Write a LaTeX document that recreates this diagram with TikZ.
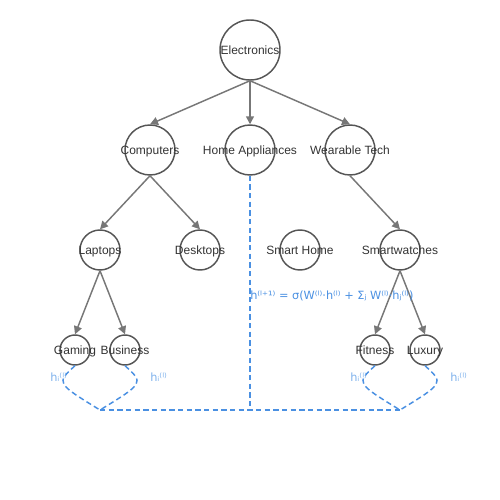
\documentclass[tikz,border=0pt]{standalone}
\usepackage{fontspec}
\setmainfont{Liberation Sans}
\newfontfamily\symfont{DejaVu Sans}
\usetikzlibrary{arrows.meta}
\definecolor{ringgray}{HTML}{555555}
\definecolor{edgegray}{HTML}{777777}
\definecolor{textgray}{HTML}{333333}
\definecolor{msgblue}{HTML}{4A90E2}
\definecolor{hblue}{HTML}{7FB2EC}
\begin{document}
\begin{tikzpicture}[x=0.75pt,y=-0.75pt,
    cat/.style={circle,draw=ringgray,line width=1.1pt,inner sep=0pt,minimum size=#1},
    catlabel/.style={font=\fontsize{9}{10}\selectfont,text=textgray,inner sep=0pt,text height=6.6pt,text depth=0pt},
    edge/.style={draw=edgegray,line width=1.1pt,-{Triangle[length=6pt,width=6pt]}},
    msg/.style={draw=msgblue,line width=1.1pt,dash pattern=on 4pt off 2.5pt},
    hlabel/.style={font=\symfont\fontsize{8.5}{9}\selectfont,text=hblue,inner sep=0pt,anchor=west}]
        \useasboundingbox (0,0) rectangle (500,500);
        \node[cat=45pt] (elec) at (250,50) {};
        \node[cat=37.5pt] (comp) at (150,150) {};
        \node[cat=37.5pt] (home) at (250,150) {};
        \node[cat=37.5pt] (wear) at (350,150) {};
        \node[cat=30pt] (lapt) at (100,250) {};
        \node[cat=30pt] (desk) at (200,250) {};
        \node[cat=30pt] (smhm) at (300,250) {};
        \node[cat=30pt] (swat) at (400,250) {};
        \node[cat=22.5pt] (game) at (75,350) {};
        \node[cat=22.5pt] (busi) at (125,350) {};
        \node[cat=22.5pt] (fitn) at (375,350) {};
        \node[cat=22.5pt] (luxu) at (425,350) {};
        \node[catlabel] at (elec) {Electronics};
        \node[catlabel] at (comp) {Computers};
        \node[catlabel] at (home) {Home Appliances};
        \node[catlabel] at (wear) {Wearable Tech};
        \node[catlabel] at (lapt) {Laptops};
        \node[catlabel] at (desk) {Desktops};
        \node[catlabel] at (smhm) {Smart Home};
        \node[catlabel] at (swat) {Smartwatches};
        \node[catlabel] at (game) {Gaming};
        \node[catlabel] at (busi) {Business};
        \node[catlabel] at (fitn) {Fitness};
        \node[catlabel] at (luxu) {Luxury};
        \foreach \a/\b in {elec/comp,elec/home,elec/wear,comp/lapt,comp/desk,wear/swat,lapt/game,lapt/busi,swat/fitn,swat/luxu}
            \draw[edge] (\a.south) -- (\b.north);
        \coordinate (poolL) at (100,410);
        \coordinate (poolM) at (250,410);
        \coordinate (poolR) at (400,410);
        \draw[msg] (home.south) -- (poolM);
        \draw[msg] (poolL) -- (poolR);
        \draw[msg] (game.south) .. controls (56,383) .. (poolL);
        \draw[msg] (busi.south) .. controls (144,383) .. (poolL);
        \draw[msg] (fitn.south) .. controls (356,383) .. (poolR);
        \draw[msg] (luxu.south) .. controls (444,383) .. (poolR);
        \node[hlabel] (hgame) at (50,377) {hᵢ⁽ˡ⁾};
        \node[hlabel] (hbusi) at (150,377) {hᵢ⁽ˡ⁾};
        \node[hlabel] (hfitn) at (350,377) {hᵢ⁽ˡ⁾};
        \node[hlabel] (hluxu) at (450,377) {hᵢ⁽ˡ⁾};
        \node[hlabel,text=msgblue] (update) at (250,296) {h⁽ˡ⁺¹⁾ = σ(W⁽ˡ⁾·h⁽ˡ⁾ + Σⱼ W⁽ˡ⁾·hⱼ⁽ˡ⁾)};
    \end{tikzpicture}
\end{document}
